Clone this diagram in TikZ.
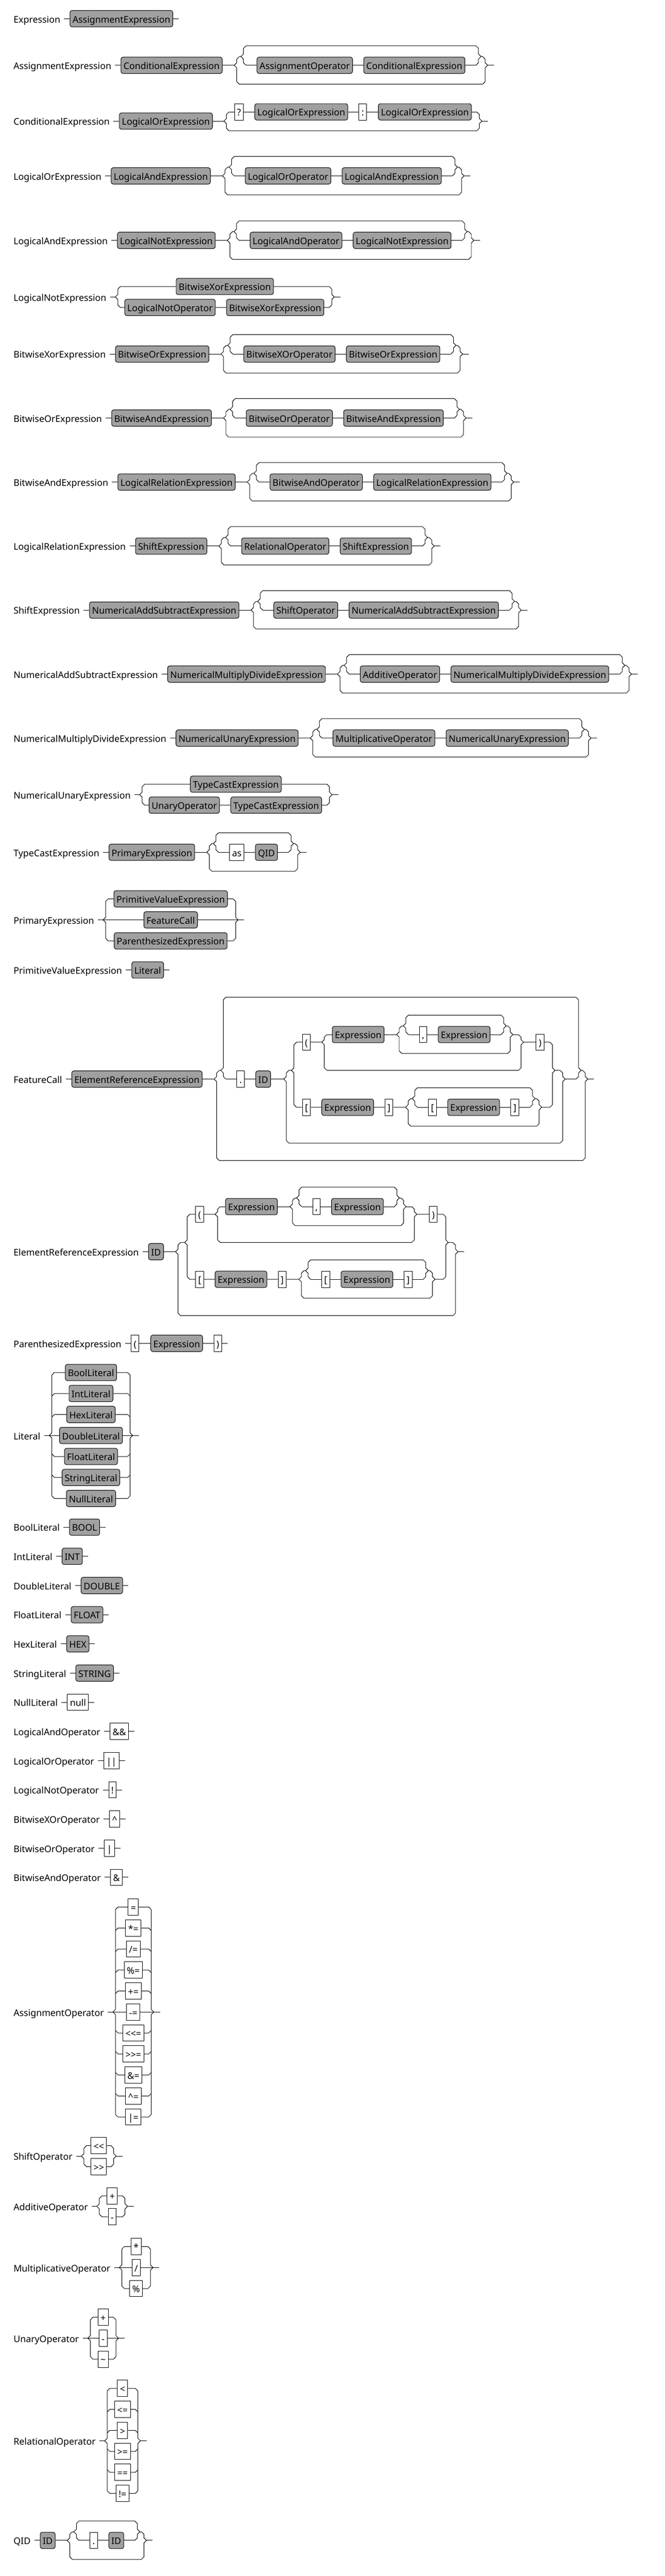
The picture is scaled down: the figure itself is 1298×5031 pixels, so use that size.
\documentclass[tikz,border=0pt]{standalone}
\usepackage{fontspec}
\newfontfamily\railfont{Noto Sans}
\usetikzlibrary{calc}
\definecolor{ntgray}{RGB}{160,160,160}
\begin{document}
\begin{tikzpicture}[x=1pt,y=-1pt,line join=round,line width=1pt,
	font=\railfont\fontsize{17.9}{21}\selectfont,
	lbl/.style={anchor=west,inner xsep=0pt,inner ysep=7.2pt,text height=16.6pt,text depth=1pt},
	nt/.style={draw,fill=ntgray,rounded corners=4pt,inner xsep=5pt,inner ysep=7.2pt,text height=16.6pt,text depth=1pt},
	tm/.style={draw,fill=white,inner xsep=5pt,inner ysep=7.2pt,text height=16.6pt,text depth=1pt}]
	\useasboundingbox (0,0) rectangle (1298,5031);
	% optional: tips #1,#2, upper arm #3, bypass #4
	\def\optrail#1#2#3#4{
		\draw (#1) -- ++(5,-5) -- ++(0,{10-#3}) -- ++(5,-5) coordinate (#1u);
		\draw (#2) -- ++(-5,-5) -- ++(0,{10-#3}) -- ++(-5,-5) coordinate (#2u);
		\draw (#1) -- ++(5,5) -- ++(0,{#4-10}) -- ++(5,5) -- ($(#2)+(-10,#4)$) -- ++(5,-5) -- ++(0,{10-#4}) -- (#2);
	}
	% loop: tips #1,#2, row #3 below tips, top #4 above row
	\def\looprail#1#2#3#4{
		\draw (#1) -- ++(5,-5) -- ++(0,{#3+10-#4}) -- ++(5,-5) -- ($(#2)+(-10,{#3-#4})$) -- ++(5,5) -- ++(0,{#4-#3-10}) -- (#2);
		\draw (#1) -- ++(5,5) -- ++(0,{#3-10}) -- ++(5,5) coordinate (#1d);
		\draw (#2) -- ++(-5,5) -- ++(0,{#3-10}) -- ++(-5,5) coordinate (#2d);
	}
	\def\starrail#1#2#3#4{
		\optrail{#1}{#2}{17}{37}
		\coordinate (#1p) at ($(#1)+(13,-17)$);
		\coordinate (#2p) at ($(#2)+(-13,-17)$);
		\draw (#1u) -- (#1p);
		\draw (#2p) -- (#2u);
		\looprail{#1p}{#2p}{17}{38}
		\draw (#1pd) -- (#3);
		\draw (#4) -- (#2pd);
	}
	% choice rails: tips #1,#2, top and bottom branch offsets
	\def\altrail#1#2#3#4{
		\draw ($(#1)+(5,{#3+5})$) -- ($(#1)+(5,-5)$) -- (#1) -- ($(#1)+(5,5)$) -- ($(#1)+(5,{#4-5})$);
		\draw ($(#2)+(-5,{#3+5})$) -- ($(#2)+(-5,-5)$) -- (#2) -- ($(#2)+(-5,5)$) -- ($(#2)+(-5,{#4-5})$);
	}
	\def\starrow#1#2#3#4#5#6#7#8{
		\node[lbl] (#1L) at (26,#2) {#3};
		\node[nt,anchor=west] (#10) at ($(#1L.east)+(18,0)$) {#4};
		\coordinate (#1A) at ($(#10.east)+(23,0)$);
		\node[#6,anchor=west] (#11) at ($(#1A)+(44,0)$) {#5};
		\node[#8,anchor=west] (#12) at ($(#11.east)+(21,0)$) {#7};
		\coordinate (#1B) at ($(#12.east)+(44,0)$);
		\draw ([xshift=7pt]#1L.east) -- (#10) -- (#1A);
		\draw (#11) -- (#12);
		\draw (#1B) -- ++(12,0);
		\starrail{#1A}{#1B}{#11}{#12}
	}
	\def\altrow#1#2#3#4#5#6{
		\node[lbl] (#1L) at (26,#2) {#3};
		\coordinate (#1a) at ($(#1L.east)+(17,0)$);
		\coordinate (#1b) at ($(#1a)+(#4,0)$);
		\draw ([xshift=7pt]#1L.east) -- (#1a);
		\draw (#1b) -- ++(12,0);
		\pgfmathsetmacro\hh{(#5-1)*20.5}
		\altrail{#1a}{#1b}{-\hh}{\hh}
		\foreach \txt/\sty [count=\i] in {#6}{
			\pgfmathsetmacro\dy{(\i-1)*41-\hh}
			\pgfmathsetmacro\sg{sign(\dy)}
			\pgfmathsetmacro\ax{5*abs(\sg)}
			\node[\sty] (#1\i) at ($(#1a)!.5!(#1b)+(0,\dy)$) {\txt};
			\draw ($(#1a)+(\ax,{\dy-5*\sg})$) -- ($(#1a)+(10,\dy)$) -- (#1\i)
			-- ($(#1b)+(-10,\dy)$) -- ($(#1b)+(-\ax,{\dy-5*\sg})$);
		}
	}
	\def\pairrow#1#2#3#4#5#6{
		\node[lbl] (#1L) at (26,#2) {#3};
		\coordinate (#1a) at ($(#1L.east)+(17,0)$);
		\node[nt,anchor=west] (#12) at ($(#1a)+(18,20.5)$) {#5};
		\node[nt,anchor=west] (#13) at ($(#12.east)+(21,0)$) {#6};
		\coordinate (#1b) at ($(#13.east)+(20,-20.5)$);
		\node[nt] (#11) at ($(#1a)!.5!(#1b)+(0,-20.5)$) {#4};
		\altrail{#1a}{#1b}{-20.5}{20.5}
		\draw ([xshift=7pt]#1L.east) -- (#1a);
		\draw ($(#1a)+(5,-15.5)$) -- ($(#1a)+(10,-20.5)$) -- (#11) -- ($(#1b)+(-10,-20.5)$) -- ($(#1b)+(-5,-15.5)$);
		\draw ($(#1a)+(5,15.5)$) -- ($(#1a)+(10,20.5)$) -- (#12) -- (#13) -- ($(#1b)+(-10,20.5)$) -- ($(#1b)+(-5,15.5)$);
		\draw (#1b) -- ++(12,0);
	}
	% ( args ) or [ index ]... , tip (#1T) given
	\def\argchoice#1{
		\node[tm,anchor=west] (#11) at ($(#1T)+(21,-55)$) {(};
		\coordinate (#1A) at ($(#11.east)+(22,0)$);
		\node[nt,anchor=west] (#12) at ($(#1A)+(20,-15)$) {Expression};
		\coordinate (#1C) at ($(#12.east)+(24,0)$);
		\node[tm,anchor=west] (#13) at ($(#1C)+(44,0)$) {,};
		\node[nt,anchor=west] (#14) at ($(#13.east)+(21,0)$) {Expression};
		\coordinate (#1D) at ($(#14.east)+(44,0)$);
		\coordinate (#1B) at ($(#1D)+(21,15)$);
		\node[tm,anchor=west] (#15) at ($(#1B)+(24,0)$) {)};
		\coordinate (#1R) at ($(#15.east |- #1T)+(21,0)$);
		\node[tm,anchor=west] (#16) at ($(#1T)+(21,72)$) {[};
		\node[nt,anchor=west] (#17) at ($(#16.east)+(21,0)$) {Expression};
		\node[tm,anchor=west] (#18) at ($(#17.east)+(21,0)$) {]};
		\coordinate (#1E) at ($(#18.east)+(24,0)$);
		\node[tm,anchor=west] (#19) at ($(#1E)+(44,0)$) {[};
		\node[nt,anchor=west] (#1x) at ($(#19.east)+(21,0)$) {Expression};
		\node[tm,anchor=west] (#1y) at ($(#1x.east)+(21,0)$) {]};
		\coordinate (#1F) at ($(#1y.east)+(44,0)$);
		\altrail{#1T}{#1R}{-55}{72}
		\draw ($(#1T)+(5,-50)$) -- ($(#1T)+(10,-55)$) -- (#11) -- (#1A);
		\optrail{#1A}{#1B}{15}{55}
		\draw (#1Au) -- (#12) -- (#1C);
		\starrail{#1C}{#1D}{#13}{#14}
		\draw (#13) -- (#14);
		\draw (#1D) -- (#1Bu);
		\draw (#1B) -- (#15) -- ($(#1R)+(-10,-55)$) -- ($(#1R)+(-5,-50)$);
		\draw ($(#1T)+(5,67)$) -- ($(#1T)+(10,72)$) -- (#16) -- (#17) -- (#18) -- (#1E);
		\starrail{#1E}{#1F}{#19}{#1y}
		\draw (#19) -- (#1x) -- (#1y);
		\draw (#1F) -- ($(#1R)+(-10,72)$) -- ($(#1R)+(-5,67)$);
	}
	
	% plain rules
	\foreach \nm/\yy/\lab/\txt/\sty in {
		ex/36.5/Expression/AssignmentExpression/nt,
		pv/1894.5/PrimitiveValueExpression/Literal/nt,
		bl/2982.5/BoolLiteral/BOOL/nt,
		il/3039.5/IntLiteral/INT/nt,
		dl/3096.5/DoubleLiteral/DOUBLE/nt,
		fl/3153.5/FloatLiteral/FLOAT/nt,
		hl/3210.5/HexLiteral/HEX/nt,
		sl/3267.5/StringLiteral/STRING/nt,
		nl/3324.5/NullLiteral/null/tm,
		lao/3381.5/LogicalAndOperator/\&\&/tm,
		loo/3438.5/LogicalOrOperator/||/tm,
		lno/3495.5/LogicalNotOperator/!/tm,
		bxo/3552.5/BitwiseXOrOperator/\textasciicircum/tm,
		boo/3609.5/BitwiseOrOperator/|/tm,
		bao/3666.5/BitwiseAndOperator/\&/tm}
	{
		\node[lbl] (\nm L) at (26,\yy) {\lab};
		\node[\sty,anchor=west] (\nm 0) at ($(\nm L.east)+(18,0)$) {\txt};
		\draw ([xshift=7pt]\nm L.east) -- (\nm 0);
		\draw (\nm 0.east) -- ++(11,0);
	}
	
	% ( x )* rules
	\starrow{ae}{127.5}{AssignmentExpression}{ConditionalExpression}{AssignmentOperator}{nt}{ConditionalExpression}{nt}
	\starrow{lo}{343.5}{LogicalOrExpression}{LogicalAndExpression}{LogicalOrOperator}{nt}{LogicalAndExpression}{nt}
	\starrow{la}{469.5}{LogicalAndExpression}{LogicalNotExpression}{LogicalAndOperator}{nt}{LogicalNotExpression}{nt}
	\starrow{bx}{691.5}{BitwiseXorExpression}{BitwiseOrExpression}{BitwiseXOrOperator}{nt}{BitwiseOrExpression}{nt}
	\starrow{bo}{816.5}{BitwiseOrExpression}{BitwiseAndExpression}{BitwiseOrOperator}{nt}{BitwiseAndExpression}{nt}
	\starrow{ba}{941.5}{BitwiseAndExpression}{LogicalRelationExpression}{BitwiseAndOperator}{nt}{LogicalRelationExpression}{nt}
	\starrow{lr}{1066.5}{LogicalRelationExpression}{ShiftExpression}{RelationalOperator}{nt}{ShiftExpression}{nt}
	\starrow{sh}{1191.5}{ShiftExpression}{NumericalAddSubtractExpression}{ShiftOperator}{nt}{NumericalAddSubtractExpression}{nt}
	\starrow{na}{1316.5}{NumericalAddSubtractExpression}{NumericalMultiplyDivideExpression}{AdditiveOperator}{nt}{NumericalMultiplyDivideExpression}{nt}
	\starrow{nm}{1441.5}{NumericalMultiplyDivideExpression}{NumericalUnaryExpression}{MultiplicativeOperator}{nt}{NumericalUnaryExpression}{nt}
	\starrow{tc}{1664.5}{TypeCastExpression}{PrimaryExpression}{as}{tm}{QID}{nt}
	\starrow{qi}{4961.5}{QID}{ID}{.}{tm}{ID}{nt}
	
	% ConditionalExpression
	\node[lbl] (ceL) at (26,236.5) {ConditionalExpression};
	\node[nt,anchor=west] (ce0) at ($(ceL.east)+(18,0)$) {LogicalOrExpression};
	\coordinate (ceA) at ($(ce0.east)+(22,0)$);
	\node[tm,anchor=west] (ce1) at ($(ceA)+(20,-18)$) {?};
	\node[nt,anchor=west] (ce2) at ($(ce1.east)+(21,0)$) {LogicalOrExpression};
	\node[tm,anchor=west] (ce3) at ($(ce2.east)+(21,0)$) {:};
	\node[nt,anchor=west] (ce4) at ($(ce3.east)+(22,0)$) {LogicalOrExpression};
	\coordinate (ceB) at ($(ce4.east)+(20,18)$);
	\draw ([xshift=7pt]ceL.east) -- (ce0) -- (ceA);
	\optrail{ceA}{ceB}{18}{19}
	\draw (ceAu) -- (ce1) -- (ce2) -- (ce3) -- (ce4) -- (ceBu);
	\draw (ceB) -- ++(12,0);
	
	% choices of sequences
	\pairrow{ln}{580}{LogicalNotExpression}{BitwiseXorExpression}{LogicalNotOperator}{BitwiseXorExpression}
	\pairrow{nu}{1552}{NumericalUnaryExpression}{TypeCastExpression}{UnaryOperator}{TypeCastExpression}
	
	% ParenthesizedExpression
	\node[lbl] (paL) at (26,2623.5) {ParenthesizedExpression};
	\node[tm,anchor=west] (pa1) at ($(paL.east)+(18,0)$) {(};
	\node[nt,anchor=west] (pa2) at ($(pa1.east)+(22,0)$) {Expression};
	\node[tm,anchor=west] (pa3) at ($(pa2.east)+(21,0)$) {)};
	\draw ([xshift=7pt]paL.east) -- (pa1) -- (pa2) -- (pa3);
	\draw (pa3.east) -- ++(11,0);
	
	% FeatureCall
	\node[lbl] (fcL) at (26,2107.5) {FeatureCall};
	\node[nt,anchor=west] (fc0) at ($(fcL.east)+(18,0)$) {ElementReferenceExpression};
	\coordinate (fcA) at ($(fc0.east)+(23,0)$);
	\node[tm,anchor=west] (fc1) at ($(fcA)+(44,0)$) {.};
	\node[nt,anchor=west] (fc2) at ($(fc1.east)+(21,0)$) {ID};
	\coordinate (fcC) at ($(fc2.east)+(25,0)$);
	\coordinate (fcxT) at ($(fcC)+(15,-17)$);
	\argchoice{fcx}
	\coordinate (fcD) at ($(fcxR)+(20,17)$);
	\coordinate (fcB) at ($(fcD)+(44,0)$);
	\draw ([xshift=7pt]fcL.east) -- (fc0) -- (fcA);
	\optrail{fcA}{fcB}{17}{159}
	\coordinate (fcAp) at ($(fcA)+(13,-17)$);
	\coordinate (fcBp) at ($(fcB)+(-13,-17)$);
	\draw (fcAu) -- (fcAp);
	\draw (fcBp) -- (fcBu);
	\looprail{fcAp}{fcBp}{17}{160}
	\draw (fcApd) -- (fc1) -- (fc2) -- (fcC);
	\draw (fcD) -- (fcBpd);
	\optrail{fcC}{fcD}{17}{125}
	\draw (fcCu) -- (fcxT);
	\draw (fcxR) -- (fcDu);
	\draw (fcB) -- ++(12,0);
	
	% ElementReferenceExpression
	\node[lbl] (erL) at (26,2444.5) {ElementReferenceExpression};
	\node[nt,anchor=west] (er0) at ($(erL.east)+(18,0)$) {ID};
	\coordinate (erA) at ($(er0.east)+(23,0)$);
	\coordinate (erxT) at ($(erA)+(18,-18)$);
	\argchoice{erx}
	\coordinate (erB) at ($(erxR)+(19,18)$);
	\draw ([xshift=7pt]erL.east) -- (er0) -- (erA);
	\optrail{erA}{erB}{18}{125}
	\draw (erAu) -- (erxT);
	\draw (erxR) -- (erBu);
	\draw (erB) -- ++(12,0);
	
	% alternatives
	\altrow{pe}{1796.5}{PrimaryExpression}{264}{3}{PrimitiveValueExpression/nt,FeatureCall/nt,ParenthesizedExpression/nt}
	\altrow{li}{2803.5}{Literal}{163}{7}{BoolLiteral/nt,IntLiteral/nt,HexLiteral/nt,DoubleLiteral/nt,FloatLiteral/nt,StringLiteral/nt,NullLiteral/nt}
	\altrow{ao}{3929.5}{AssignmentOperator}{80}{11}{=/tm,*=/tm,{/=}/tm,\%=/tm,+=/tm,-=/tm,<<=/tm,>>=/tm,\&=/tm,\textasciicircum=/tm,|=/tm}
	\altrow{so}{4211}{ShiftOperator}{68}{2}{<</tm,>>/tm}
	\altrow{ad}{4309}{AdditiveOperator}{60}{2}{+/tm,-/tm}
	\altrow{mo}{4428.5}{MultiplicativeOperator}{66}{3}{*/tm,{/}/tm,\%/tm}
	\altrow{uo}{4566.5}{UnaryOperator}{60}{3}{+/tm,-/tm,\textasciitilde/tm}
	\altrow{ro}{4767}{RelationalOperator}{70}{6}{</tm,<=/tm,>/tm,>=/tm,==/tm,!=/tm}
\end{tikzpicture}
\end{document}
